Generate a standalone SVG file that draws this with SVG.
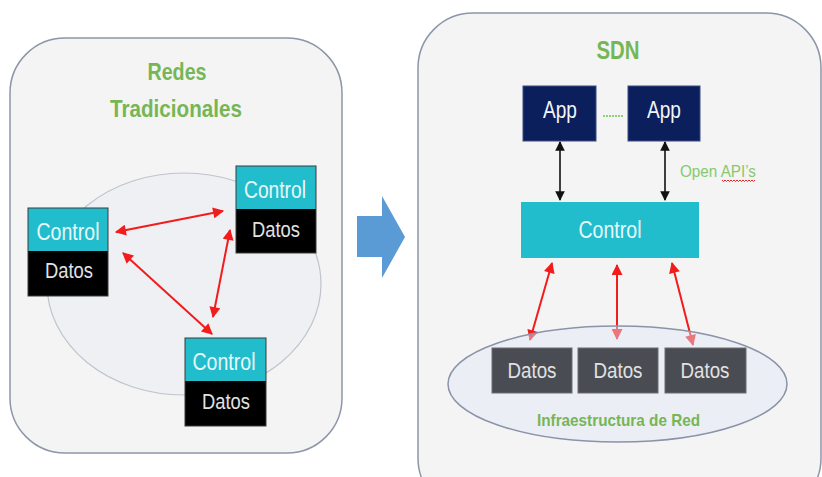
<svg xmlns="http://www.w3.org/2000/svg" width="822" height="477" viewBox="0 0 822 477">
  <style>
    .panel { fill: #f4f4f4; stroke: #8c96a8; stroke-width: 1.5; }
    .title { font-family: "Liberation Sans", Arial, sans-serif; font-weight: bold; fill: #76b655; text-anchor: middle; }
    .lbl { font-family: "Liberation Sans", Arial, sans-serif; text-anchor: middle; }
    .ctl { fill: #22bdcc; }
    .ctl-t { fill: #e8f8fa; font-size: 23px; }
    .dat { fill: #000000; }
    .dat-t { fill: #e2e2e2; font-size: 22px; }
    .box-edge { fill: none; stroke: #3a3a3a; stroke-width: 1; }
    .app { fill: #0a1f5c; stroke: #3a4d80; stroke-width: 1; }
    .app-t { fill: #f2f4f8; font-size: 23px; }
    .dat2 { fill: #4a4c53; stroke: #6a6c73; stroke-width: 1; }
    .red { stroke: #f21c1c; stroke-width: 2; fill: none; marker-start: url(#redHead); marker-end: url(#redHead); }
    .blk { stroke: #111111; stroke-width: 1.6; fill: none; marker-start: url(#blkHead); marker-end: url(#blkHead); }
  </style>
  <defs>
    <marker id="redHead" viewBox="0 0 10 10" refX="9" refY="5" markerWidth="6" markerHeight="5.5" markerUnits="strokeWidth" orient="auto-start-reverse">
      <path d="M0,0 L10,5 L0,10 Z" fill="#f21c1c"/>
    </marker>
    <marker id="blkHead" viewBox="0 0 10 10" refX="9" refY="5" markerWidth="6" markerHeight="6" markerUnits="strokeWidth" orient="auto-start-reverse">
      <path d="M0,0 L10,5 L0,10 Z" fill="#111111"/>
    </marker>
  </defs>

  <rect width="822" height="477" fill="#ffffff"/>

  <!-- Traditional networks panel -->
  <g id="panel-traditional">
    <rect class="panel" x="10" y="38" width="332" height="415" rx="55" ry="55"/>
    <text class="title" x="177" y="80" font-size="24" textLength="59" lengthAdjust="spacingAndGlyphs">Redes</text>
    <text class="title" x="176" y="117" font-size="24" textLength="132" lengthAdjust="spacingAndGlyphs">Tradicionales</text>
    <ellipse cx="184" cy="284" rx="137" ry="111" fill="#eef0f4" stroke="#bfc3cc" stroke-width="1.2"/>
  </g>

  <!-- SDN panel -->
  <g id="panel-sdn">
    <rect class="panel" x="418" y="13" width="403" height="500" rx="55" ry="55"/>
    <text class="title" x="618" y="59" font-size="26" textLength="43" lengthAdjust="spacingAndGlyphs">SDN</text>
  </g>

  <!-- transition arrow -->
  <g id="transition-arrow">
    <path d="M357,216 L382,216 L382,196 L405,237 L382,278 L382,257 L357,257 Z" fill="#5b9bd5"/>
  </g>

  <!-- connectors -->
  <g id="connectors">
    <line class="red" x1="116" y1="232" x2="223" y2="211"/>
    <line class="red" x1="123" y1="253" x2="212" y2="334"/>
    <line class="red" x1="230" y1="230" x2="213" y2="317"/>
    <line class="blk" x1="560" y1="142" x2="560" y2="200"/>
    <line class="blk" x1="665" y1="142" x2="665" y2="200"/>
    <line class="red" x1="552" y1="263" x2="530" y2="340"/>
    <line class="red" x1="617" y1="265" x2="617" y2="339"/>
    <line class="red" x1="672" y1="263" x2="693" y2="345"/>
    <line x1="603" y1="116" x2="624" y2="116" stroke="#8fd07a" stroke-width="2" stroke-dasharray="2,1"/>
  </g>

  <!-- network infrastructure ellipse (over connector ends) -->
  <g id="infra">
    <ellipse cx="617.5" cy="384" rx="169.5" ry="58" fill="#dfe6f5" fill-opacity="0.45" stroke="#8a93a8" stroke-width="1.5"/>
    <text class="title" x="618.5" y="426" font-size="17" textLength="163" lengthAdjust="spacingAndGlyphs">Infraestructura de Red</text>
  </g>

  <!-- traditional devices -->
  <g id="node-left">
    <rect class="ctl" x="28" y="208" width="80" height="43"/>
    <rect class="dat" x="28" y="251" width="80" height="45"/>
    <rect class="box-edge" x="28" y="208" width="80" height="88"/>
    <text class="lbl ctl-t" x="68" y="240" textLength="63" lengthAdjust="spacingAndGlyphs">Control</text>
    <text class="lbl dat-t" x="69" y="278" textLength="48" lengthAdjust="spacingAndGlyphs">Datos</text>
  </g>
  <g id="node-top-right">
    <rect class="ctl" x="236" y="166" width="80" height="43"/>
    <rect class="dat" x="236" y="209" width="80" height="44"/>
    <rect class="box-edge" x="236" y="166" width="80" height="87"/>
    <text class="lbl ctl-t" x="275" y="198" textLength="62" lengthAdjust="spacingAndGlyphs">Control</text>
    <text class="lbl dat-t" x="276" y="237" textLength="48" lengthAdjust="spacingAndGlyphs">Datos</text>
  </g>
  <g id="node-bottom">
    <rect class="ctl" x="185" y="338" width="81" height="43"/>
    <rect class="dat" x="185" y="381" width="81" height="45"/>
    <rect class="box-edge" x="185" y="338" width="81" height="88"/>
    <text class="lbl ctl-t" x="224" y="370" textLength="63" lengthAdjust="spacingAndGlyphs">Control</text>
    <text class="lbl dat-t" x="226" y="409" textLength="48" lengthAdjust="spacingAndGlyphs">Datos</text>
  </g>

  <!-- SDN elements -->
  <g id="app-1">
    <rect class="app" x="523" y="86" width="73" height="55"/>
    <text class="lbl app-t" x="560" y="118" textLength="34" lengthAdjust="spacingAndGlyphs">App</text>
  </g>
  <g id="app-2">
    <rect class="app" x="628" y="86" width="72" height="55"/>
    <text class="lbl app-t" x="664" y="118" textLength="34" lengthAdjust="spacingAndGlyphs">App</text>
  </g>
  <g id="open-api">
    <text x="680" y="177" font-family="'Liberation Sans', Arial, sans-serif" font-size="16" fill="#86c96c" textLength="76" lengthAdjust="spacingAndGlyphs">Open API’s</text>
    <path d="M722,180 l1.5,1.5 l1.5,-1.5 l1.5,1.5 l1.5,-1.5 l1.5,1.5 l1.5,-1.5 l1.5,1.5 l1.5,-1.5 l1.5,1.5 l1.5,-1.5 l1.5,1.5 l1.5,-1.5 l1.5,1.5 l1.5,-1.5 l1.5,1.5 l1.5,-1.5 l1.5,1.5 l1.5,-1.5 l1.5,1.5 l1.5,-1.5 l1.5,1.5 l1.5,-1.5" fill="none" stroke="#e02828" stroke-width="1"/>
  </g>
  <g id="controller">
    <rect class="ctl" x="521" y="202" width="178" height="56"/>
    <text class="lbl" x="610" y="238" font-size="23" fill="#e8f8fa" textLength="63" lengthAdjust="spacingAndGlyphs">Control</text>
  </g>
  <g id="datos-1">
    <rect class="dat2" x="492" y="348" width="80" height="45"/>
    <text class="lbl dat-t" x="532" y="378" textLength="49" lengthAdjust="spacingAndGlyphs">Datos</text>
  </g>
  <g id="datos-2">
    <rect class="dat2" x="578" y="348" width="80" height="45"/>
    <text class="lbl dat-t" x="618" y="378" textLength="49" lengthAdjust="spacingAndGlyphs">Datos</text>
  </g>
  <g id="datos-3">
    <rect class="dat2" x="665" y="348" width="81" height="45"/>
    <text class="lbl dat-t" x="705" y="378" textLength="49" lengthAdjust="spacingAndGlyphs">Datos</text>
  </g>
</svg>
